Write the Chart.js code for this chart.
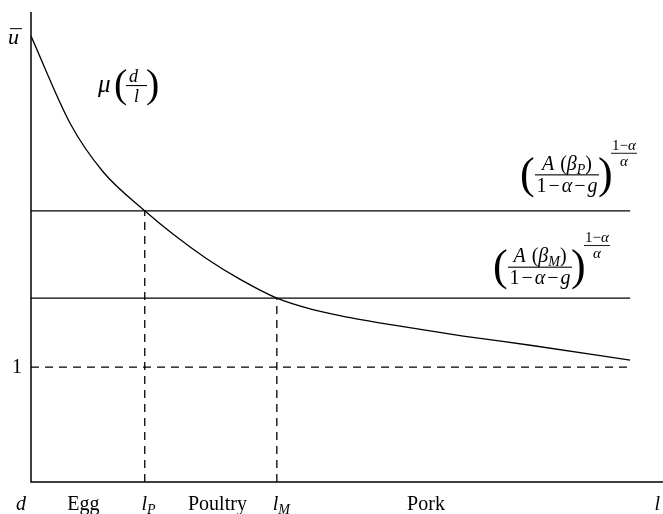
<!DOCTYPE html>
<html>
<head>
<meta charset="utf-8">
<script src="https://cdn.jsdelivr.net/npm/chart.js@4/dist/chart.umd.min.js"></script>
<style>
  html, body { margin: 0; padding: 0; background: #fff; }
  #wrap { width: 663px; height: 514px; }
</style>
</head>
<body>
<div id="wrap"><canvas id="c"></canvas></div>
<script>
// curve mu(d/l)
const curveX = [0, 0.62, 1.14, 1.80, 2.25, 2.78, 3.31, 3.89, 4.46, 5.05, 5.79, 6.84, 7.90, 9.48];
const curveY = [3.88, 3.12, 2.70, 2.36, 2.155, 1.943, 1.763, 1.60, 1.50, 1.43, 1.36, 1.27, 1.19, 1.06];

// levels and cut-off points
const levelP = 2.36;
const levelM = 1.60;
const levelOne = 1;
const lP = 1.80;
const lM = 3.89;
const lineEnd = 9.48;

// bottom labels: text, subscript, x value
const bottomText = ['d', 'Egg', 'l', 'Poultry', 'l', 'Pork', 'l'];
const bottomSub = ['', '', 'P', '', 'M', '', ''];
const bottomAt = [-0.16, 0.83, 1.86, 2.95, 3.96, 6.25, 9.91];

const SERIF = '"Liberation Serif", "Times New Roman", serif';
const rm = s => s + 'px ' + SERIF;
const it = s => 'italic ' + s + 'px ' + SERIF;

const seg = (x0, y0, x1, y1) => [{x: x0, y: y0}, {x: x1, y: y1}];
const baseDs = {borderColor: '#000', borderWidth: 1.3, pointRadius: 0, fill: false};

function runParts(ctx, parts, x, y, draw) {
  for (const p of parts) {
    const [t, f, dy = 0, padL = 0, padR = 0] = p;
    ctx.font = f;
    x += padL;
    if (draw) ctx.fillText(t, x, y + dy);
    x += ctx.measureText(t).width + padR;
  }
  return x;
}
function partsWidth(ctx, parts) { return runParts(ctx, parts, 0, 0, false); }

function drawFormula(ctx, x0, barY, sub) {
  const num = [['A', it(20)], [' ', rm(20), 0, 0, 1], ['(', rm(20)], ['β', it(20)], [sub, it(14), 4], [')', rm(20)]];
  const den = [['1', rm(20)], ['−', rm(20), 0, 2, 2], ['α', it(20)], ['−', rm(20), 0, 2, 2], ['g', it(20)]];
  const bx0 = x0 + 15, bx1 = x0 + 79;
  ctx.font = rm(44);
  ctx.fillText('(', x0, barY + 13);
  ctx.fillText(')', bx1 - 1, barY + 13);
  const cx = (bx0 + bx1) / 2;
  const nb = barY - 5;
  runParts(ctx, num, cx - partsWidth(ctx, num) / 2, nb, true);
  runParts(ctx, den, cx - partsWidth(ctx, den) / 2, barY + 17, true);
  ctx.fillRect(bx0, barY - 0.5, bx1 - bx0, 1.1);
  // exponent (1-alpha)/alpha
  const ex = x0 + 104;
  const top = [['1', rm(15)], ['−', rm(15)], ['α', it(15)]];
  runParts(ctx, top, ex - partsWidth(ctx, top) / 2, nb - 20, true);
  ctx.fillRect(ex - 13, nb - 17, 26, 0.9);
  ctx.font = it(15);
  ctx.fillText('α', ex - ctx.measureText('α').width / 2, nb - 4);
}

const labelsPlugin = {
  id: 'labels',
  afterDraw(chart) {
    const {ctx, chartArea: a, scales: {x, y}} = chart;
    ctx.save();
    ctx.fillStyle = '#000';
    ctx.strokeStyle = '#000';
    // axes
    ctx.lineWidth = 1.5;
    ctx.beginPath();
    ctx.moveTo(a.left, a.top);
    ctx.lineTo(a.left, a.bottom);
    ctx.lineTo(a.right, a.bottom);
    ctx.stroke();

    ctx.textBaseline = 'alphabetic';
    // bottom labels
    const by = a.bottom + 28;
    bottomText.forEach((t, i) => {
      const isMath = t.length === 1;
      const parts = [[t, isMath ? it(20) : rm(20)]];
      if (bottomSub[i]) parts.push([bottomSub[i], it(14), 4]);
      const px = x.getPixelForValue(bottomAt[i]);
      runParts(ctx, parts, px - partsWidth(ctx, parts) / 2, by, true);
    });

    // y labels
    ctx.font = rm(20);
    ctx.fillText('1', 12, y.getPixelForValue(levelOne) + 6);
    const uy = y.getPixelForValue(curveY[0]);
    ctx.font = it(22);
    ctx.fillText('u', 8, uy + 8);
    ctx.fillRect(10, uy - 8, 12, 1);

    // mu(d/l)
    ctx.font = it(25);
    ctx.fillText('μ', 98, 92);
    ctx.font = rm(40);
    ctx.fillText('(', 114, 97);
    ctx.fillText(')', 146, 97);
    ctx.font = it(18);
    ctx.fillText('d', 129, 82);
    ctx.fillText('l', 134, 102);
    ctx.fillRect(126, 85, 21, 1.1);

    // level formulas
    drawFormula(ctx, 520, y.getPixelForValue(levelP) - 36, 'P');
    drawFormula(ctx, 493, y.getPixelForValue(levelM) - 31, 'M');
    ctx.restore();
  }
};

new Chart(document.getElementById('c'), {
  type: 'line',
  data: {
    datasets: [
      Object.assign({data: curveX.map((v, i) => ({x: v, y: curveY[i]})), cubicInterpolationMode: 'monotone'}, baseDs),
      Object.assign({data: seg(0, levelP, lineEnd, levelP)}, baseDs),
      Object.assign({data: seg(0, levelM, lineEnd, levelM)}, baseDs),
      Object.assign({data: seg(0, levelOne, lineEnd, levelOne), borderDash: [8, 6]}, baseDs),
      Object.assign({data: seg(lP, 0, lP, levelP), borderDash: [8, 6]}, baseDs),
      Object.assign({data: seg(lM, 0, lM, levelM), borderDash: [8, 6]}, baseDs)
    ]
  },
  options: {
    responsive: true,
    maintainAspectRatio: false,
    animation: false,
    layout: {padding: {left: 31, top: 12, right: 0, bottom: 32}},
    scales: {
      x: {type: 'linear', min: 0, max: 10, display: false},
      y: {type: 'linear', min: 0, max: 4.09, display: false}
    },
    plugins: {legend: {display: false}, tooltip: {enabled: false}}
  },
  plugins: [labelsPlugin]
});
</script>
</body>
</html>
